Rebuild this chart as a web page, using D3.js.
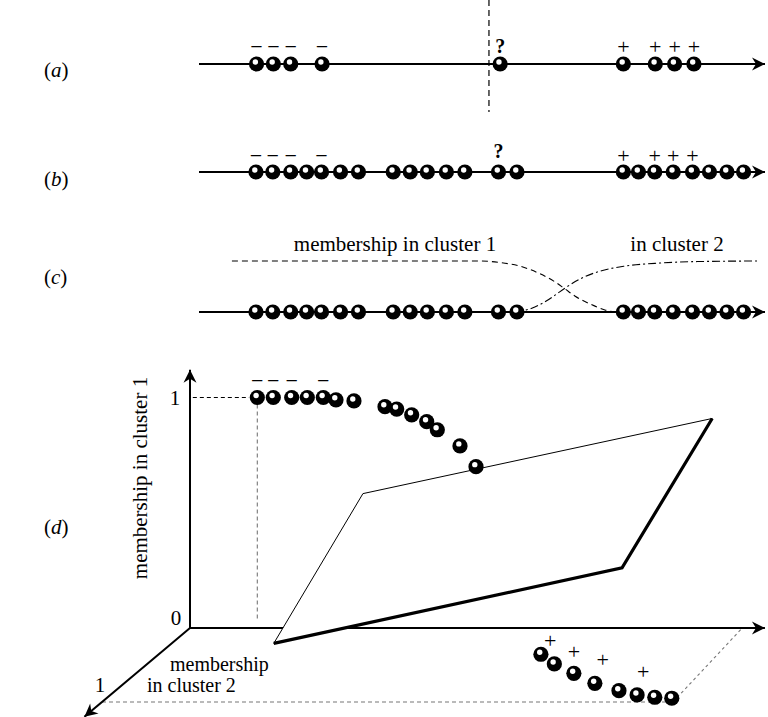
<!DOCTYPE html>
<html>
<head>
<meta charset="utf-8">
<script src="https://cdn.jsdelivr.net/npm/d3@7"></script>
<style>
  body { margin: 0; background: #fff; }
  svg { display: block; font-family: "Liberation Serif", "Times New Roman", serif; }
</style>
</head>
<body>
<div id="chart"></div>
<script>
// ---- data ----
// feature values (0..100) of the points on the 1-D rows
var pointsA = [10.1, 13.1, 16.2, 21.8, 53.6, 75.6, 81.3, 84.75, 88.2];
var labIdxA = [0, 1, 2, 3, 4, 5, 6, 7, 8];
var labTxtA = ["−", "−", "−", "−", "?", "+", "+", "+", "+"];
var pointsB = [10.0, 13.0, 16.2, 19.05, 21.7, 25.1, 28.3, 34.5, 37.55, 40.6, 44.0, 47.3,
               53.3, 56.6, 75.6, 78.3, 81.2, 84.5, 87.95, 90.98, 94.1, 97.07];
var labIdxB = [0, 1, 2, 4, 12, 14, 16, 17, 18];
var labTxtB = ["−", "−", "−", "−", "?", "+", "+", "+", "+"];
var pointsC = pointsB;
var boundaryA = 51.6;

// membership curves of row (c)
var memb1X = [5.7, 50, 53.6, 57.1, 60.7, 63.4, 65.2, 67, 69.6, 72.3, 74.1];
var memb1Y = [1, 1, 0.97, 0.9, 0.75, 0.59, 0.45, 0.31, 0.16, 0.04, 0];
var memb2X = [56.25, 58.9, 61.6, 63.4, 65.2, 67.9, 71.4, 75.9, 82.1, 89.3, 100];
var memb2Y = [0, 0.06, 0.2, 0.33, 0.47, 0.65, 0.8, 0.9, 0.96, 0.99, 1];

// panel (d): feature x, membership in cluster 1 (m1), in cluster 2 (m2)
var topX  = [11.87, 14.69, 17.94, 20.69, 23.51, 25.75, 28.92, 34.39, 36.46, 39.1, 41.75, 43.62, 47.62, 50.44];
var topM1 = [1, 1, 1, 1, 1, 0.99, 0.985, 0.96, 0.95, 0.925, 0.895, 0.86, 0.79, 0.70];
var topMinusIdx = [0, 1, 2, 4];
var botX  = [67.4, 71.8, 77.2, 83.0, 88.8, 92.9, 96.5, 99.7];
var botM2 = [0.355, 0.486, 0.612, 0.747, 0.847, 0.905, 0.936, 0.949];
var plusX  = [66.2, 72.8, 79.5, 89.1];
var plusM2 = [0.172, 0.328, 0.432, 0.591];
var planeX  = [18.0, 30.5, 92.1, 76.2];
var planeM1 = [0, 0.583, 0.909, 0.261];
var planeM2 = [0.208, 0, 0, 0];

var W = 768, H = 717;
var svg = d3.select("#chart").append("svg").attr("width", W).attr("height", H);

var defs = svg.append("defs");
defs.append("marker")
  .attr("id", "arr")
  .attr("viewBox", "-14 -7 16 14")
  .attr("refX", 0).attr("refY", 0)
  .attr("markerUnits", "userSpaceOnUse")
  .attr("markerWidth", 16).attr("markerHeight", 14)
  .attr("orient", "auto")
  .append("path")
  .attr("d", "M0,0 L-13,-6.5 L-9,0 L-13,6.5 Z")
  .attr("fill", "#000");

function ball(g, cx, cy) {
  g.append("circle").attr("cx", cx).attr("cy", cy).attr("r", 7.6).attr("fill", "#000");
  g.append("circle").attr("cx", cx - 1.2).attr("cy", cy - 2).attr("r", 2.7).attr("fill", "#fff");
}

function mark(g, txt, x, y) {
  g.append("text").attr("x", x).attr("y", y)
    .attr("text-anchor", "middle")
    .style("font-size", txt == "?" ? "20px" : "22px")
    .style("font-weight", txt == "?" ? "bold" : "normal")
    .text(txt);
}

function panelLabel(name, y) {
  var t = svg.append("text").attr("x", 44).attr("y", y).style("font-size", "21px");
  t.append("tspan").text("(");
  t.append("tspan").style("font-style", "italic").text(name);
  t.append("tspan").text(")");
}

// ---- rows a, b, c ----
var x1 = d3.scaleLinear().domain([0, 100]).range([200, 760]);
var rowY = [64, 172, 312];

[0, 1, 2].forEach(function (r) {
  svg.append("line")
    .attr("x1", 199).attr("x2", 765)
    .attr("y1", rowY[r]).attr("y2", rowY[r])
    .attr("stroke", "#000").attr("stroke-width", 2)
    .attr("marker-end", "url(#arr)");
});

// (a)
svg.append("line")
  .attr("x1", x1(boundaryA)).attr("x2", x1(boundaryA))
  .attr("y1", 0).attr("y2", 112)
  .attr("stroke", "#000").attr("stroke-width", 1.2)
  .attr("stroke-dasharray", "6,4");
var gA = svg.append("g");
pointsA.forEach(function (v) { ball(gA, x1(v), rowY[0]); });
labIdxA.forEach(function (i, k) {
  mark(gA, labTxtA[k], x1(pointsA[i]), rowY[0] - (labTxtA[k] == "?" ? 11 : 10));
});

// (b)
var gB = svg.append("g");
pointsB.forEach(function (v) { ball(gB, x1(v), rowY[1]); });
labIdxB.forEach(function (i, k) {
  mark(gB, labTxtB[k], x1(pointsB[i]), rowY[1] - (labTxtB[k] == "?" ? 14 : 9));
});

// (c)
var mC = d3.scaleLinear().domain([0, 1]).range([rowY[2], 261]);
var lineC = d3.line().x(function (d) { return x1(d[0]); }).y(function (d) { return mC(d[1]); })
  .curve(d3.curveMonotoneX);
svg.append("path")
  .attr("d", lineC(d3.zip(memb1X, memb1Y)))
  .attr("fill", "none").attr("stroke", "#000").attr("stroke-width", 1.1)
  .attr("stroke-dasharray", "6,4");
svg.append("path")
  .attr("d", lineC(d3.zip(memb2X, memb2Y)))
  .attr("fill", "none").attr("stroke", "#000").attr("stroke-width", 1.1)
  .attr("stroke-dasharray", "8,3,2,3");
var gC = svg.append("g");
pointsC.forEach(function (v) { ball(gC, x1(v), rowY[2]); });
svg.append("text").attr("x", 395).attr("y", 251).attr("text-anchor", "middle")
  .style("font-size", "21px").text("membership in cluster 1");
svg.append("text").attr("x", 677).attr("y", 251).attr("text-anchor", "middle")
  .style("font-size", "21px").text("in cluster 2");

panelLabel("a", 77);
panelLabel("b", 186);
panelLabel("c", 284);
panelLabel("d", 534);

// ---- panel d ----
var sx = d3.scaleLinear().domain([0, 100]).range([190, 757]);
var sy = d3.scaleLinear().domain([0, 1]).range([628, 397.5]);
var szx = d3.scaleLinear().domain([0, 1]).range([0, -88]);
var szy = d3.scaleLinear().domain([0, 1]).range([0, 74]);
function proj(x, m1, m2) { return [sx(x) + szx(m2), sy(m1) + szy(m2)]; }

var gD = svg.append("g");
function seg(a, b, w, dash, col, arrow) {
  var l = gD.append("line")
    .attr("x1", a[0]).attr("y1", a[1]).attr("x2", b[0]).attr("y2", b[1])
    .attr("stroke", col || "#000").attr("stroke-width", w);
  if (dash) l.attr("stroke-dasharray", dash);
  if (arrow) l.attr("marker-end", "url(#arr)");
  return l;
}

// guide lines
seg(proj(0.5, 1, 0), proj(10.4, 1, 0), 1.1, "4,3");
seg(proj(topX[0], 0.97, 0), proj(topX[0], 0.03, 0), 1.1, "4,3", "#777");
seg(proj(0, 0, 1), proj(100.7, 0, 1), 1.1, "4,3", "#777");
seg(proj(100.7, 0, 1), proj(97.4, 0, 0), 1.1, "3,3", "#777");

// axes
seg(proj(0, 0, 0), proj(0, 1.12, 0), 2, null, null, true);
seg(proj(0, 0, 0), proj(101.4, 0, 0), 2, null, null, true);
seg(proj(0, 0, 0), proj(0, 0, 1.2), 2, null, null, true);

// separating plane
var pc = planeX.map(function (x, i) { return proj(x, planeM1[i], planeM2[i]); });
gD.append("path")
  .attr("d", "M" + pc.join("L") + "Z")
  .attr("fill", "#fff").attr("stroke", "#000").attr("stroke-width", 1);
gD.append("path")
  .attr("d", "M" + pc[2] + "L" + pc[3] + "L" + pc[0])
  .attr("fill", "none").attr("stroke", "#000").attr("stroke-width", 3.2)
  .attr("stroke-linejoin", "miter");

// points
topX.forEach(function (x, i) { var p = proj(x, topM1[i], 0); ball(gD, p[0], p[1]); });
topMinusIdx.forEach(function (i) {
  var p = proj(topX[i], topM1[i], 0);
  mark(gD, "−", p[0], p[1] - 10);
});
botX.forEach(function (x, i) { var p = proj(x, 0, botM2[i]); ball(gD, p[0], p[1]); });
plusX.forEach(function (x, i) {
  var p = proj(x, 0, plusM2[i]);
  mark(gD, "+", p[0], p[1] + 7);
});

// axis texts
gD.append("text").attr("x", 175).attr("y", 405).attr("text-anchor", "middle")
  .style("font-size", "21px").text("1");
gD.append("text").attr("x", 176).attr("y", 625).attr("text-anchor", "middle")
  .style("font-size", "21px").text("0");
gD.append("text").attr("x", 100).attr("y", 692).attr("text-anchor", "middle")
  .style("font-size", "21px").text("1");
gD.append("text").attr("x", 170).attr("y", 671)
  .style("font-size", "20px").text("membership");
gD.append("text").attr("x", 147).attr("y", 692)
  .style("font-size", "20px").text("in cluster 2");
gD.append("text").attr("transform", "translate(147,478) rotate(-90)")
  .attr("text-anchor", "middle")
  .style("font-size", "21px").text("membership in cluster 1");
</script>
</body>
</html>
